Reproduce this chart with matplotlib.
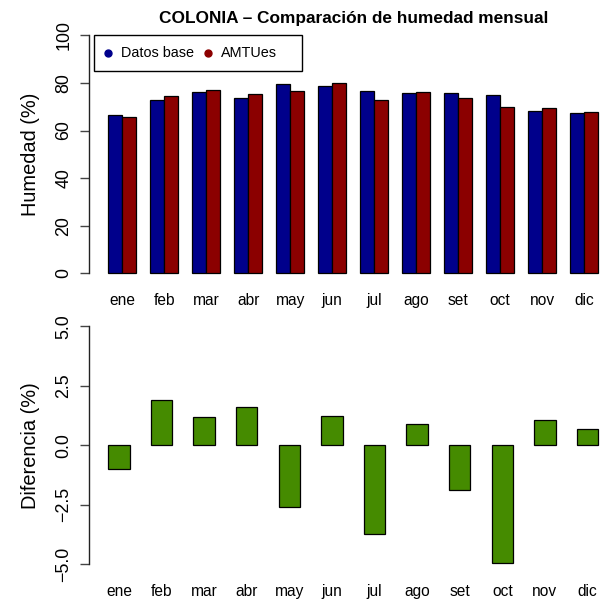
import numpy as np
import matplotlib
matplotlib.use("Agg")
import matplotlib.pyplot as plt
from matplotlib.patches import Rectangle
from matplotlib.lines import Line2D

# Monthly humidity data for Colonia
months = ["ene", "feb", "mar", "abr", "may", "jun",
          "jul", "ago", "set", "oct", "nov", "dic"]
datos_base = [66.7, 72.8, 76.0, 73.5, 79.4, 78.7,
              76.7, 75.6, 75.6, 74.9, 68.3, 67.5]
amtues = [65.6, 74.6, 77.1, 75.2, 76.7, 79.8,
          72.9, 76.3, 73.6, 69.9, 69.3, 67.9]
diferencia = [-1.0, 1.89, 1.18, 1.6, -2.6, 1.22,
              -3.74, 0.88, -1.9, -4.97, 1.08, 0.66]

hum_ticks = [0, 20, 40, 60, 80, 100]
dif_ticks = [-5.0, -2.5, 0.0, 2.5, 5.0]
series_names = ["Datos base", "AMTUes"]

col_base = "#00008B"
col_amt = "#8B0000"
col_dif = "#458B00"

plt.rcParams["font.family"] = ["Liberation Sans", "DejaVu Sans"]

W, H = 601, 603
fig = plt.figure(figsize=(W / 100, H / 100), dpi=100)


def fx(x):
    return x / W


def fy(y):
    return 1 - y / H


def px_axes(x0, y0, x1, y1):
    return fig.add_axes([fx(x0), fy(y1), (x1 - x0) / W, (y1 - y0) / H])


n = len(months)
idx = np.arange(n)

# ---------- top panel: grouped bars ----------
ax1 = px_axes(88.7, 25.8, 617.7, 282.8)
x_base = 1.5 + 3 * idx
x_amt = 2.5 + 3 * idx
ax1.bar(x_base, datos_base, width=1.0, color=col_base, edgecolor="black", linewidth=0.9)
ax1.bar(x_amt, amtues, width=1.0, color=col_amt, edgecolor="black", linewidth=0.9)
ax1.set_xlim(-0.4, 37.4)
ax1.set_ylim(-4, 104)
ax1.set_xticks(2 + 3 * idx)
ax1.set_xticklabels(months)
ax1.set_yticks(hum_ticks)
ax1.set_yticklabels([str(t) for t in hum_ticks])
ax1.set_title("COLONIA \u2013 Comparaci\u00f3n de humedad mensual",
              fontsize=12.4, fontweight="bold", pad=1.5)
ax1.set_ylabel("Humedad (%)", fontsize=14.4)

# legend box drawn in figure space; every entry gets the same slot width
fig.patches.append(Rectangle((fx(94.3), fy(70.7)), (302 - 94.3) / W, (70.7 - 35) / H,
                             transform=fig.transFigure, facecolor="white",
                             edgecolor="black", linewidth=1.0, zorder=5))
slot = 100
for k, (name, col) in enumerate(zip(series_names, (col_base, col_amt))):
    xd = 107.7 + k * slot
    fig.lines.append(Line2D([fx(xd)], [fy(53.3)], transform=fig.transFigure,
                            marker="o", markersize=5, color=col,
                            linestyle="none", zorder=6))
    fig.text(fx(xd + 13.3), fy(53.3), name, fontsize=10.4,
             ha="left", va="center", zorder=6)

# ---------- bottom panel: differences ----------
ax2 = px_axes(88.7, 316.7, 617.7, 573.7)
x_dif = 1.5 + 2 * idx
ax2.bar(x_dif, diferencia, width=1.0, color=col_dif, edgecolor="black", linewidth=0.9)
ax2.set_xlim(0.08, 24.92)
ax2.set_ylim(-5.4, 5.4)
ax2.set_xticks(x_dif)
ax2.set_xticklabels(months)
ax2.set_yticks(dif_ticks)
ax2.set_yticklabels([f"{t:.1f}".replace("-", "\u2212") for t in dif_ticks])
ax2.set_ylabel("Diferencia (%)", fontsize=14.4)

for ax, lo, hi in ((ax1, 0, 100), (ax2, -5, 5)):
    for s in ("top", "right", "bottom"):
        ax.spines[s].set_visible(False)
    ax.spines["left"].set_bounds(lo, hi)
    ax.spines["left"].set_linewidth(1.0)
    ax.spines["left"].set_color("#222222")
    ax.tick_params(axis="y", length=6.7, width=1.0, color="#444444",
                   labelsize=12.9, labelrotation=90, pad=5)
    ax.tick_params(axis="x", length=0, labelsize=11.2, pad=7.5)
    for lab in ax.get_yticklabels():
        lab.set_verticalalignment("center")
    ax.yaxis.set_label_coords((30 - 88.7) / 529, 0.5)
    ax.yaxis.label.set_verticalalignment("center")

fig.savefig("out.png", dpi=100)
